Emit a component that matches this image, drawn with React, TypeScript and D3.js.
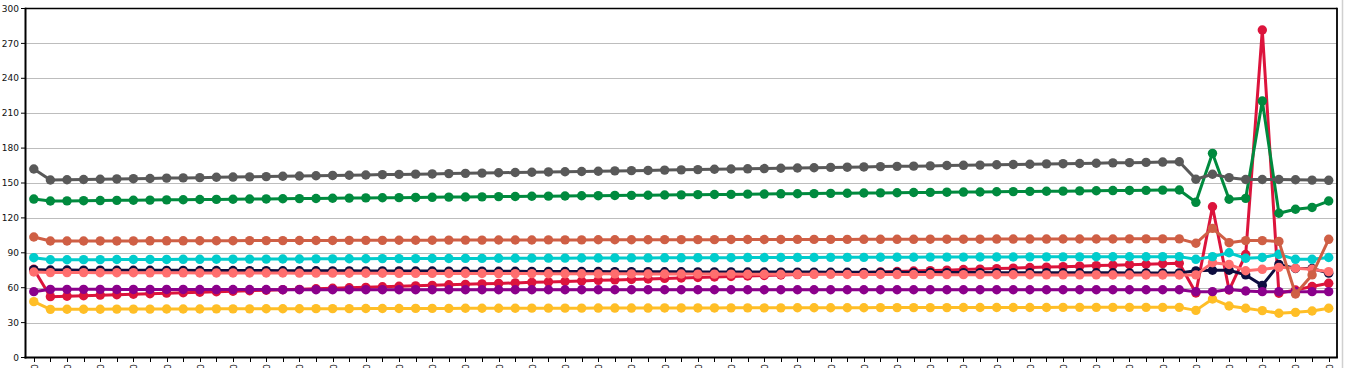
import React from "react";
import * as d3 from "d3";

const categories: string[] = [
  "01-01 00:00","01-01 01:00","01-01 02:00","01-01 03:00","01-01 04:00","01-01 05:00","01-01 06:00","01-01 07:00","01-01 08:00","01-01 09:00",
  "01-01 10:00","01-01 11:00","01-01 12:00","01-01 13:00","01-01 14:00","01-01 15:00","01-01 16:00","01-01 17:00","01-01 18:00","01-01 19:00",
  "01-01 20:00","01-01 21:00","01-01 22:00","01-01 23:00","01-02 00:00","01-02 01:00","01-02 02:00","01-02 03:00","01-02 04:00","01-02 05:00",
  "01-02 06:00","01-02 07:00","01-02 08:00","01-02 09:00","01-02 10:00","01-02 11:00","01-02 12:00","01-02 13:00","01-02 14:00","01-02 15:00",
  "01-02 16:00","01-02 17:00","01-02 18:00","01-02 19:00","01-02 20:00","01-02 21:00","01-02 22:00","01-02 23:00","01-03 00:00","01-03 01:00",
  "01-03 02:00","01-03 03:00","01-03 04:00","01-03 05:00","01-03 06:00","01-03 07:00","01-03 08:00","01-03 09:00","01-03 10:00","01-03 11:00",
  "01-03 12:00","01-03 13:00","01-03 14:00","01-03 15:00","01-03 16:00","01-03 17:00","01-03 18:00","01-03 19:00","01-03 20:00","01-03 21:00",
  "01-03 22:00","01-03 23:00","01-04 00:00","01-04 01:00","01-04 02:00","01-04 03:00","01-04 04:00","01-04 05:00","01-04 06:00"
];

const yTicks: number[] = [0, 30, 60, 90, 120, 150, 180, 210, 240, 270, 300];

const greySeries: number[] = [
  162,
  152.6,152.8,153.0,153.2,153.5,153.7,153.9,154.2,154.4,154.6,
  154.9,155.1,155.3,155.5,155.8,156.0,156.2,156.5,156.7,156.9,
  157.2,157.4,157.6,157.8,158.1,158.3,158.5,158.8,159.0,159.2,
  159.5,159.7,159.9,160.1,160.4,160.6,160.8,161.1,161.3,161.5,
  161.8,162.0,162.2,162.4,162.7,162.9,163.1,163.4,163.6,163.8,
  164.1,164.3,164.5,164.7,165.0,165.2,165.4,165.7,165.9,166.1,
  166.4,166.6,166.8,167.0,167.3,167.5,167.7,168.0,168.3,
  153.2,157.5,154.6,153.0,153.0,153.0,152.8,152.5,152.3
];

const greenSeries: number[] = [
  136.2,
  134.5,134.6,134.8,134.9,135.1,135.2,135.3,135.5,135.6,135.8,
  135.9,136.0,136.2,136.3,136.5,136.6,136.7,136.9,137.0,137.2,
  137.3,137.4,137.6,137.7,137.9,138.0,138.1,138.3,138.4,138.6,
  138.7,138.8,139.0,139.1,139.3,139.4,139.5,139.7,139.8,140.0,
  140.1,140.2,140.4,140.5,140.7,140.8,140.9,141.1,141.2,141.4,
  141.5,141.6,141.8,141.9,142.1,142.2,142.3,142.5,142.6,142.8,
  142.9,143.0,143.2,143.3,143.5,143.6,143.7,143.9,144.0,
  133.4,175.5,136.0,136.8,220.5,124.0,127.4,129.0,134.5
];

const orangeSeries: number[] = [
  103.6,
  100.1,100.1,100.1,100.2,100.2,100.2,100.3,100.3,100.3,100.4,
  100.4,100.4,100.5,100.5,100.5,100.6,100.6,100.6,100.7,100.7,
  100.7,100.8,100.8,100.8,100.9,100.9,100.9,101.0,101.0,101.0,
  101.1,101.1,101.1,101.2,101.2,101.2,101.2,101.3,101.3,101.3,
  101.3,101.4,101.4,101.4,101.4,101.5,101.5,101.5,101.5,101.6,
  101.6,101.6,101.6,101.7,101.7,101.7,101.7,101.8,101.8,101.8,
  101.8,101.9,101.9,101.9,101.9,102.0,102.0,102.0,102.0,
  98.2,111.0,98.7,100.5,100.5,99.8,54.6,71.0,101.6
];

const cyanSeries: number[] = [
  85.8,
  84.0,84.0,84.1,84.1,84.2,84.2,84.3,84.3,84.4,84.4,
  84.5,84.5,84.6,84.6,84.7,84.7,84.8,84.8,84.9,84.9,
  85.0,85.0,85.0,85.1,85.1,85.2,85.2,85.3,85.3,85.4,
  85.4,85.4,85.5,85.5,85.6,85.6,85.6,85.7,85.7,85.8,
  85.8,85.8,85.9,85.9,86.0,86.0,86.0,86.1,86.1,86.1,
  86.2,86.2,86.2,86.3,86.3,86.3,86.4,86.4,86.4,86.5,
  86.5,86.5,86.5,86.6,86.6,86.6,86.6,86.7,86.7,
  84.4,86.7,90.0,85.3,86.0,88.7,84.4,84.4,86.0
];

const navySeries: number[] = [
  75.5,
  75.2,75.2,75.1,75.1,75.0,75.0,75.0,74.9,74.9,74.8,
  74.8,74.8,74.7,74.7,74.6,74.6,74.6,74.5,74.5,74.4,
  74.4,74.4,74.3,74.3,74.2,74.2,74.2,74.1,74.1,74.0,
  74.0,74.0,73.9,73.9,73.8,73.8,73.8,73.7,73.7,73.6,
  73.6,73.6,73.5,73.5,73.4,73.4,73.4,73.3,73.3,73.2,
  73.2,73.2,73.1,73.1,73.0,73.0,73.0,72.9,72.9,72.9,
  72.9,72.8,72.8,72.8,72.8,72.7,72.7,72.7,72.7,
  74.5,75.0,75.0,71.0,62.0,80.0,76.5,76.5,72.5
];

const salmonSeries: number[] = [
  73.5,
  73.0,73.0,73.0,72.9,72.9,72.9,72.8,72.8,72.8,72.7,
  72.7,72.7,72.6,72.6,72.6,72.5,72.5,72.5,72.4,72.4,
  72.4,72.3,72.3,72.3,72.2,72.2,72.2,72.1,72.1,72.1,
  72.0,72.0,72.0,71.9,71.9,71.9,71.8,71.8,71.8,71.7,
  71.7,71.7,71.6,71.6,71.6,71.5,71.5,71.5,71.4,71.4,
  71.4,71.3,71.3,71.3,71.2,71.2,71.2,71.1,71.1,71.1,
  71.0,71.0,71.0,71.0,70.9,70.9,70.9,70.9,70.9,
  71.0,81.5,80.0,74.6,75.8,77.5,76.7,75.8,73.8
];

const crimsonSeries: number[] = [
  75.8,
  52.3,52.7,53.1,53.6,54.0,54.4,54.8,55.3,55.7,56.1,
  56.5,57.0,57.4,57.8,58.2,58.6,59.1,59.5,59.9,60.3,
  60.8,61.2,61.6,62.0,62.5,62.9,63.3,63.7,64.1,64.6,
  65.0,65.4,65.8,66.3,66.7,67.1,67.5,68.0,68.4,68.8,
  69.2,69.6,70.1,70.5,70.9,71.3,71.8,72.2,72.6,73.0,
  73.5,73.9,74.3,74.7,75.1,75.6,76.0,76.4,76.8,77.3,
  77.7,78.1,78.5,79.0,79.4,79.8,80.2,80.6,81.0,
  55.5,129.6,58.0,88.5,281.5,55.2,58.0,61.0,63.8
];

const purpleSeries: number[] = [
  56.6,
  58.6,58.6,58.6,58.6,58.5,58.5,58.5,58.5,58.5,58.4,
  58.4,58.4,58.4,58.4,58.3,58.3,58.3,58.3,58.3,58.3,
  58.3,58.3,58.3,58.2,58.2,58.2,58.2,58.2,58.2,58.2,
  58.2,58.2,58.2,58.2,58.2,58.2,58.2,58.2,58.2,58.2,
  58.2,58.2,58.2,58.2,58.2,58.2,58.2,58.2,58.2,58.2,
  58.2,58.2,58.2,58.2,58.2,58.2,58.2,58.2,58.2,58.2,
  58.2,58.2,58.2,58.2,58.2,58.2,58.2,58.2,58.2,
  56.6,56.6,58.4,57.2,56.6,56.6,56.6,56.6,56.6
];

const goldSeries: number[] = [
  48.0,
  41.4,41.5,41.5,41.5,41.6,41.6,41.6,41.7,41.7,41.7,
  41.8,41.8,41.8,41.9,41.9,41.9,42.0,42.0,42.0,42.1,
  42.1,42.1,42.2,42.2,42.2,42.3,42.3,42.3,42.3,42.4,
  42.4,42.4,42.4,42.5,42.5,42.5,42.5,42.6,42.6,42.6,
  42.6,42.7,42.7,42.7,42.7,42.8,42.8,42.8,42.8,42.8,
  42.9,42.9,42.9,42.9,42.9,43.0,43.0,43.0,43.0,43.0,
  43.0,43.1,43.1,43.1,43.1,43.1,43.1,43.1,43.1,
  40.5,50.3,44.3,42.3,40.3,38.0,38.8,40.0,42.3
];

const seriesNames: string[] = ["gold", "crimson", "navy", "salmon", "purple", "cyan", "orange", "green", "grey"];
const seriesColors: string[] = ["#ffbe26", "#dc143c", "#0d0d3f", "#ff6e6e", "#8b008b", "#00cccc", "#cf5f45", "#008a3e", "#595959"];
const seriesValues: number[][] = [goldSeries, crimsonSeries, navySeries, salmonSeries, purpleSeries, cyanSeries, orangeSeries, greenSeries, greySeries];

const W = 1347;
const H = 368;
const left = 25.5;
const right = 1337;
const top = 8.5;
const bottom = 357.5;

export default function App() {
  const idx = d3.range(categories.length);
  const x = d3.scalePoint<number>().domain(idx).range([left, right]).padding(0.5);
  const y = d3.scaleLinear().domain([0, 300]).range([bottom, top]);
  const line = d3
    .line<number>()
    .x((_, i) => x(i) as number)
    .y((d) => y(d));
  const font = "'DejaVu Sans', Verdana, sans-serif";

  return (
    <svg
      width={W}
      height={H}
      style={{ position: "fixed", left: 0, top: 0, background: "#fff" }}
      fontFamily={font}
    >
      <rect x={0} y={0} width={W} height={H} fill="#fff" />
      {/* gridlines */}
      {yTicks.filter((t) => t > 0 && t < 300).map((t) => (
        <line key={"g" + t} x1={left} x2={right} y1={Math.round(y(t)) + 0.5} y2={Math.round(y(t)) + 0.5} stroke="#bdbdbd" strokeWidth={1} />
      ))}
      {/* y ticks and labels */}
      {yTicks.map((t) => (
        <g key={"yt" + t} transform={`translate(0,${y(t)})`}>
          <line x1={21} x2={left} y1={0} y2={0} stroke="#000" strokeWidth={1} />
          <text x={19} y={0} dy="0.35em" textAnchor="end" fontSize={9} fill="#111">
            {t}
          </text>
        </g>
      ))}
      {/* x ticks and labels */}
      {idx.map((i) => (
        <g key={"xt" + i} transform={`translate(${Math.round(x(i) as number) + 0.5},0)`}>
          <line x1={0} x2={0} y1={bottom} y2={bottom + 4.5} stroke="#000" strokeWidth={1} />
          {i % 2 === 0 && (
            <text transform={`translate(0,${bottom + 6.5}) rotate(-90)`} dy="0.35em" textAnchor="end" fontSize={9} fill="#111">
              {categories[i]}
            </text>
          )}
        </g>
      ))}
      {/* series */}
      {seriesValues.map((vals, s) => (
        <g key={seriesNames[s]}>
          <path d={line(vals) || ""} fill="none" stroke={seriesColors[s]} strokeWidth={3} strokeLinejoin="round" />
          {vals.map((v, i) => (
            <circle key={i} cx={x(i) as number} cy={y(v)} r={4.7} fill={seriesColors[s]} />
          ))}
        </g>
      ))}
      {/* frame */}
      <line x1={left - 0.5} x2={right} y1={top} y2={top} stroke="#000" strokeWidth={1.6} />
      <line x1={right} x2={right} y1={top - 0.8} y2={bottom} stroke="#000" strokeWidth={1.8} />
      <line x1={left} x2={left} y1={top - 0.8} y2={bottom + 1} stroke="#000" strokeWidth={2} />
      <line x1={left - 1} x2={right + 0.9} y1={bottom} y2={bottom} stroke="#000" strokeWidth={2} />
      <line x1={1342.5} x2={1342.5} y1={0} y2={H} stroke="#d0d0d0" strokeWidth={1.5} />
    </svg>
  );
}
